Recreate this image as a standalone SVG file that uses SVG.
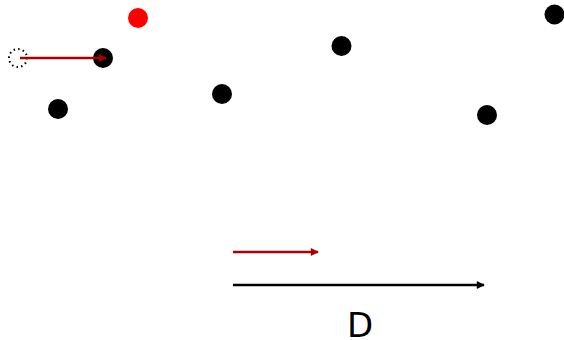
<svg xmlns="http://www.w3.org/2000/svg" width="564" height="340" viewBox="0 0 564 340">
<style>
.dot{fill:#000}
.red{fill:#ff0000}
.ar{stroke:#aa0000;stroke-width:2.5;fill:none}
.ab{stroke:#000;stroke-width:2.5;fill:none}
</style>
<defs>
<marker id="mr" viewBox="0 0 10 10" refX="9" refY="5" markerWidth="4" markerHeight="3.2" orient="auto" markerUnits="strokeWidth"><path d="M0,0 L10,5 L0,10 z" fill="#aa0000"/></marker>
<marker id="mb" viewBox="0 0 10 10" refX="9" refY="5" markerWidth="4" markerHeight="3.2" orient="auto" markerUnits="strokeWidth"><path d="M0,0 L10,5 L0,10 z" fill="#000"/></marker>
</defs>
<rect width="564" height="340" fill="#fff"/>
<g id="ghost"><circle cx="18" cy="58" r="9" fill="none" stroke="#000" stroke-width="2" stroke-dasharray="1.5,3.2"/></g>
<g id="n1"><circle class="dot" cx="103" cy="58" r="10"/></g>
<g id="n2"><circle class="red" cx="138" cy="18" r="10"/></g>
<g id="n3"><circle class="dot" cx="58" cy="109" r="10"/></g>
<g id="n4"><circle class="dot" cx="222" cy="94" r="10"/></g>
<g id="n5"><circle class="dot" cx="341.5" cy="46" r="10"/></g>
<g id="n6"><circle class="dot" cx="487" cy="115" r="10"/></g>
<g id="n7"><circle class="dot" cx="554.5" cy="14.5" r="10"/></g>
<g id="connectors">
<line class="ar" x1="20" y1="58" x2="106" y2="58" marker-end="url(#mr)"/>
<line class="ar" x1="233" y1="252" x2="318" y2="252" marker-end="url(#mr)"/>
<line class="ab" x1="233" y1="285" x2="484" y2="285" marker-end="url(#mb)"/>
</g>
<text x="360" y="337" font-family="DejaVu Sans, sans-serif" font-size="34" text-anchor="middle">D</text>
</svg>
